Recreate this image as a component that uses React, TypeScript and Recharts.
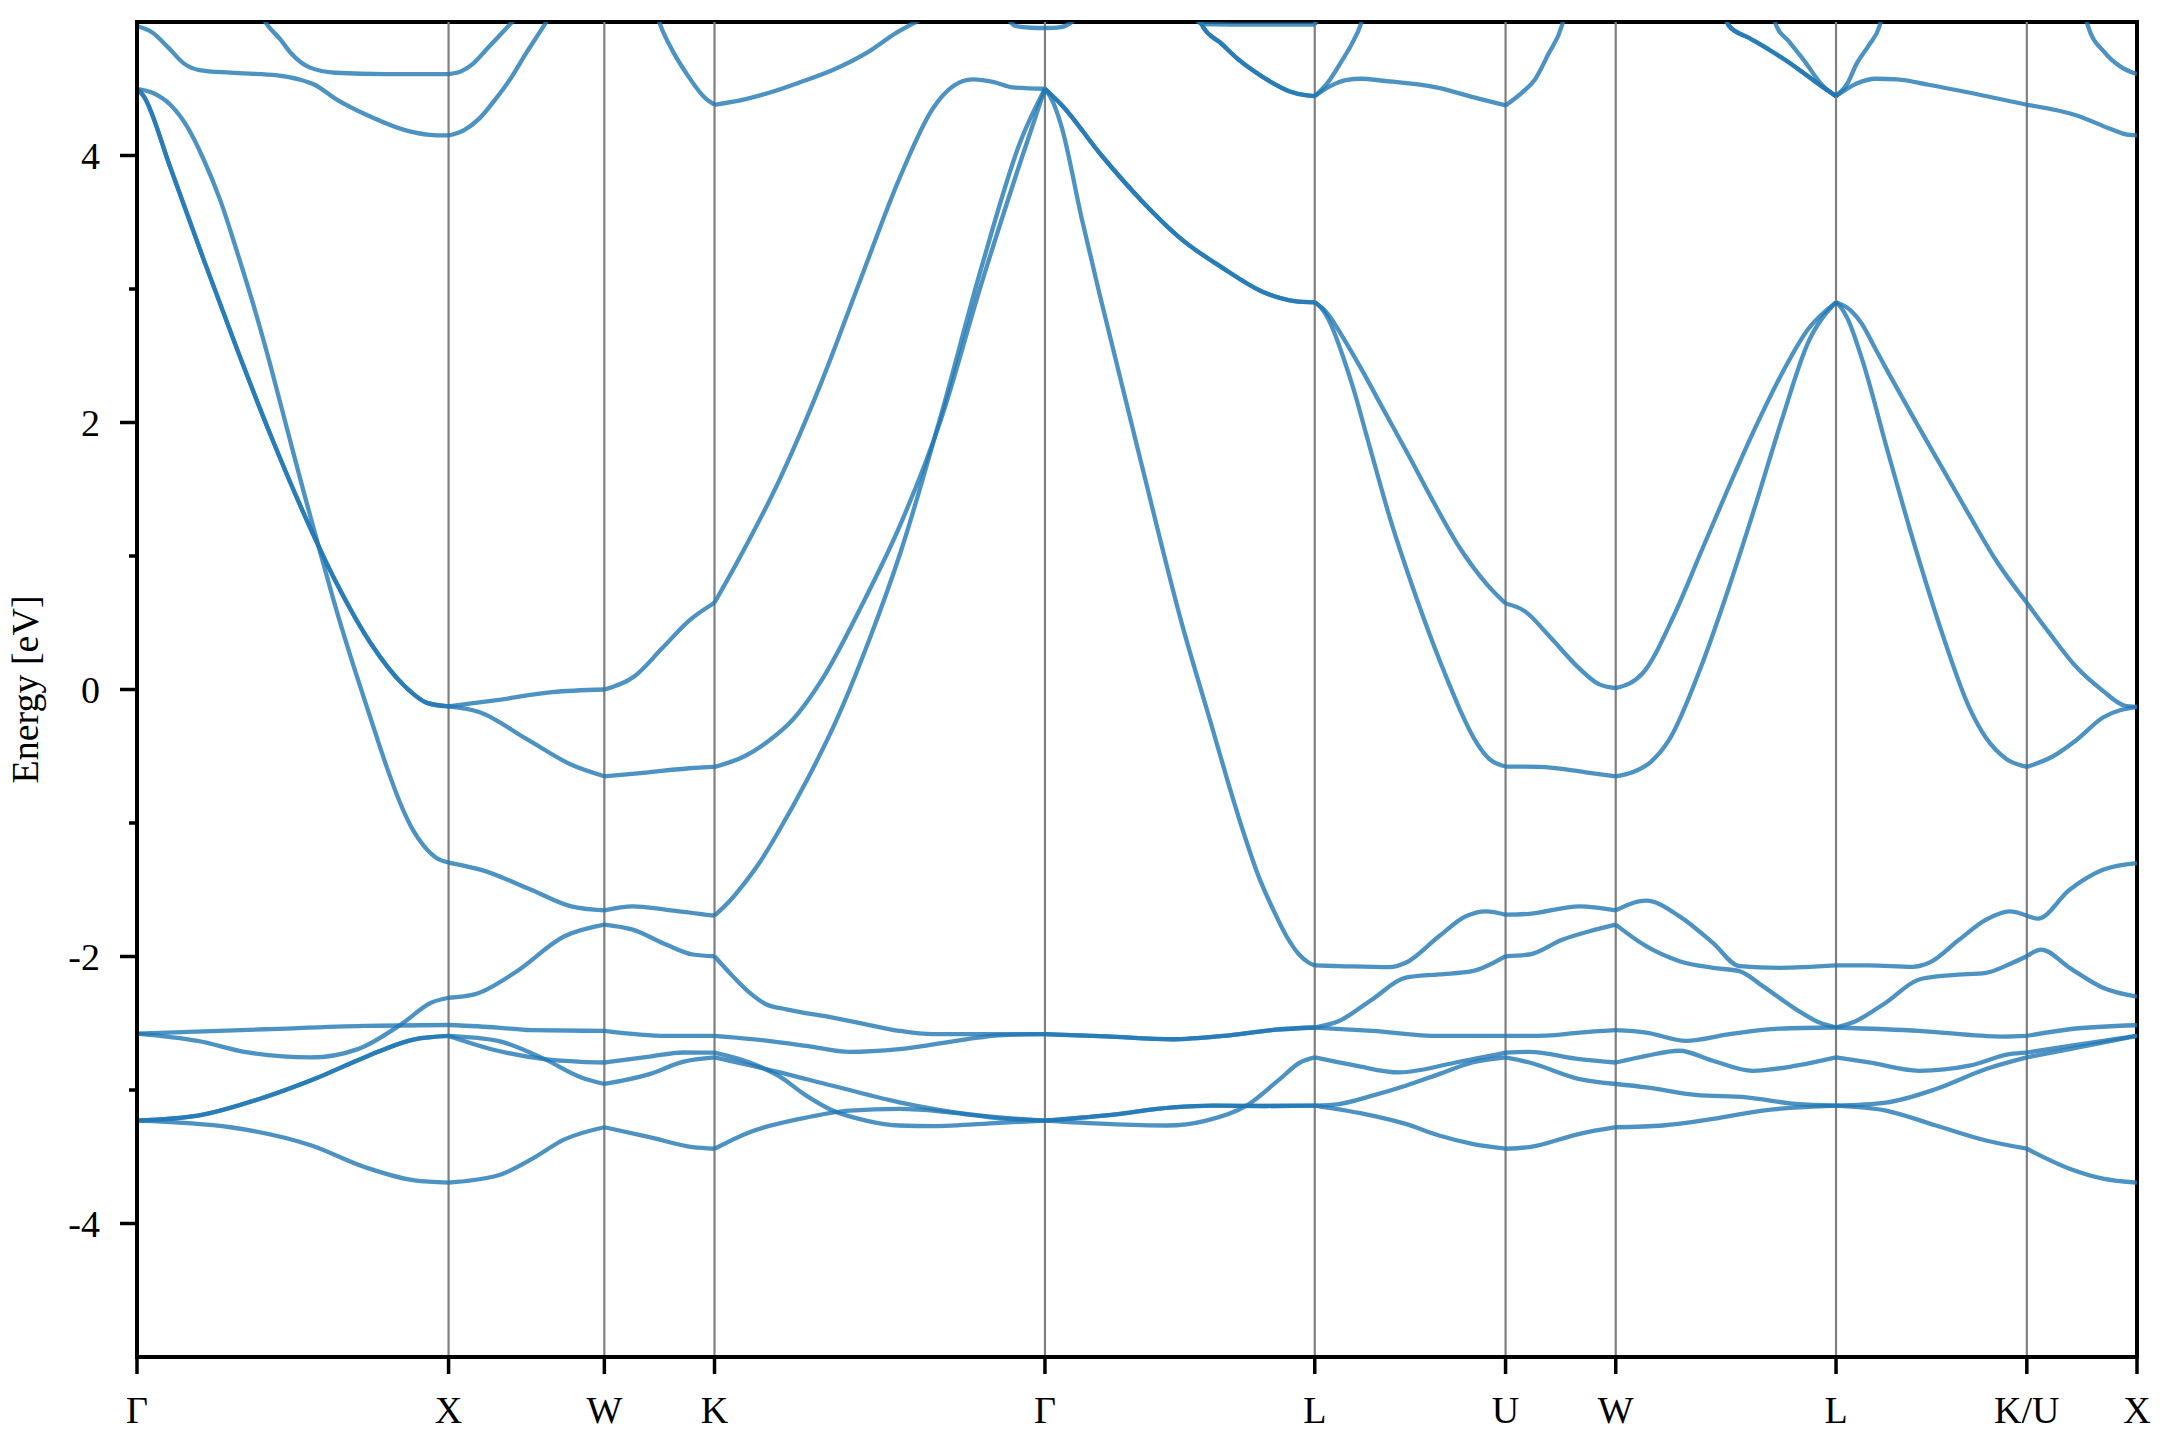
import React from "react";
import {
  LineChart,
  Line,
  XAxis,
  YAxis,
  ReferenceLine,
  ReferenceArea,
  Label,
} from "recharts";

type Pt = [number, number];

// high-symmetry points along the k-path
const KPOINTS = [0, 1, 1.5, 1.8536, 2.9142, 3.7802, 4.3926, 4.7462, 5.4533, 6.0657, 6.4193];
const KLABELS = ["Γ", "X", "W", "K", "Γ", "L", "U", "W", "L", "K/U", "X"];
const ENERGY_TICKS = [-4, -3, -2, -1, 0, 1, 2, 3, 4];

// shared (degenerate) pieces
const gxLow: Pt[] = [[0, -3.229], [0.195, -3.192], [0.409, -3.055], [0.569, -2.918], [0.73, -2.756], [0.891, -2.62], [1.0, -2.595]];
const glLow: Pt[] = [[3.111, -3.19], [3.325, -3.13], [3.454, -3.117], [3.62, -3.12], [3.7802, -3.117]];
const glMid: Pt[] = [[3.111, -2.599], [3.325, -2.62], [3.486, -2.595], [3.647, -2.55], [3.7802, -2.532]];
const gxTop: Pt[] = [[0, 4.5], [0.02, 4.45], [0.107, 3.91], [0.214, 3.22], [0.321, 2.55], [0.428, 1.91], [0.535, 1.32], [0.642, 0.79], [0.749, 0.35], [0.857, 0.03], [0.931, -0.1], [1.0, -0.127]];
const glTop: Pt[] = [[2.967, 4.38], [3.096, 4.0], [3.225, 3.66], [3.354, 3.37], [3.483, 3.16], [3.612, 2.98], [3.715, 2.91], [3.7802, 2.9]];

// d-like bands
const band1: Pt[] = [
  [0, -3.229], [0.3, -3.279], [0.56, -3.416], [0.73, -3.577], [0.89, -3.677], [1.0, -3.694],
  [1.16, -3.639], [1.265, -3.52], [1.372, -3.37], [1.5, -3.279], [1.645, -3.353], [1.784, -3.428],
  [1.8536, -3.44], [1.966, -3.316], [2.126, -3.217], [2.287, -3.154], [2.447, -3.142], [2.608, -3.167],
  [2.768, -3.212], [2.9142, -3.229], ...glLow, [3.965, -3.192], [4.072, -3.254], [4.179, -3.341],
  [4.286, -3.403], [4.3926, -3.44], [4.469, -3.428], [4.63, -3.328], [4.7462, -3.279], [4.897, -3.266],
  [5.058, -3.217], [5.218, -3.154], [5.4533, -3.117], [5.613, -3.154], [5.774, -3.266], [5.935, -3.378],
  [6.0657, -3.44], [6.203, -3.59], [6.31, -3.664], [6.4193, -3.694],
];
const band2: Pt[] = [
  ...gxLow, [1.158, -2.632], [1.308, -2.769], [1.426, -2.906], [1.5, -2.955], [1.645, -2.881],
  [1.752, -2.789], [1.8536, -2.756], [2.019, -2.843], [2.233, -2.968], [2.447, -3.092], [2.661, -3.179],
  [2.9142, -3.229], ...glLow, [3.858, -3.105], [3.965, -3.042], [4.072, -2.968], [4.179, -2.881],
  [4.286, -2.794], [4.3926, -2.756], [4.469, -2.794], [4.63, -2.918], [4.7462, -2.955], [4.844, -2.98],
  [5.004, -3.037], [5.165, -3.055], [5.325, -3.105], [5.4533, -3.117], [5.613, -3.094], [5.774, -2.993],
  [5.935, -2.843], [6.0657, -2.756], [6.203, -2.694], [6.4193, -2.595],
];
const band3: Pt[] = [
  ...gxLow, [1.158, -2.706], [1.308, -2.769], [1.426, -2.789], [1.5, -2.794], [1.645, -2.75],
  [1.752, -2.719], [1.8536, -2.72], [1.966, -2.794], [2.062, -2.898], [2.148, -3.042], [2.233, -3.154],
  [2.34, -3.229], [2.447, -3.266], [2.554, -3.271], [2.768, -3.246], [2.9142, -3.229], [3.111, -3.254],
  [3.304, -3.266], [3.432, -3.229], [3.561, -3.117], [3.668, -2.918], [3.733, -2.794], [3.7802, -2.756],
  [3.912, -2.818], [4.051, -2.868], [4.233, -2.794], [4.3926, -2.72], [4.469, -2.714], [4.63, -2.769],
  [4.7462, -2.794], [4.844, -2.744], [4.951, -2.706], [5.058, -2.781], [5.186, -2.856], [5.325, -2.818],
  [5.4533, -2.756], [5.559, -2.794], [5.72, -2.856], [5.881, -2.818], [6.01, -2.731], [6.0657, -2.72],
  [6.203, -2.669], [6.4193, -2.595],
];
const band4: Pt[] = [
  [0, -2.577], [0.409, -2.545], [0.73, -2.52], [1.0, -2.513], [1.158, -2.532], [1.265, -2.552],
  [1.5, -2.557], [1.698, -2.595], [1.8536, -2.595], [2.019, -2.63], [2.15, -2.67], [2.287, -2.715],
  [2.447, -2.694], [2.661, -2.62], [2.768, -2.59], [2.9142, -2.582], ...glMid, [3.965, -2.557],
  [4.179, -2.595], [4.3926, -2.595], [4.522, -2.592], [4.63, -2.57], [4.7462, -2.552], [4.844, -2.57],
  [4.972, -2.632], [5.111, -2.582], [5.271, -2.54], [5.4533, -2.532], [5.72, -2.557], [5.988, -2.6],
  [6.0657, -2.595], [6.203, -2.545], [6.4193, -2.515],
];
const band5: Pt[] = [
  [0, -2.577], [0.195, -2.632], [0.355, -2.719], [0.559, -2.756], [0.709, -2.694], [0.848, -2.508],
  [0.944, -2.346], [1.0, -2.309], [1.083, -2.284], [1.212, -2.122], [1.372, -1.848], [1.5, -1.761],
  [1.591, -1.799], [1.698, -1.91], [1.784, -1.985], [1.8536, -1.998], [1.912, -2.147], [1.966, -2.271],
  [2.019, -2.358], [2.084, -2.396], [2.233, -2.458], [2.34, -2.508], [2.447, -2.557], [2.554, -2.582],
  [2.9142, -2.582], ...glMid, [3.858, -2.483], [3.965, -2.321], [4.072, -2.159], [4.179, -2.134],
  [4.286, -2.11], [4.3926, -1.998], [4.469, -1.985], [4.576, -1.873], [4.662, -1.811], [4.7462, -1.761],
  [4.844, -1.923], [4.951, -2.035], [5.058, -2.085], [5.143, -2.11], [5.218, -2.222], [5.325, -2.396],
  [5.4, -2.495], [5.4533, -2.532], [5.506, -2.495], [5.613, -2.346], [5.72, -2.172], [5.827, -2.139],
  [5.935, -2.122], [6.02, -2.047], [6.0657, -1.998], [6.112, -1.948], [6.203, -2.085], [6.31, -2.234],
  [6.4193, -2.301],
];

// s/p-like bands
const band6: Pt[] = [
  [0, 4.5], [0.05, 4.47], [0.107, 4.38], [0.16, 4.22], [0.214, 3.97], [0.268, 3.66], [0.321, 3.28],
  [0.375, 2.87], [0.428, 2.43], [0.482, 1.95], [0.535, 1.48], [0.589, 1.02], [0.642, 0.58], [0.696, 0.17],
  [0.749, -0.21], [0.8, -0.57], [0.85, -0.88], [0.885, -1.05], [0.92, -1.17], [0.96, -1.26], [1.0, -1.296],
  [1.105, -1.351], [1.265, -1.5], [1.394, -1.624], [1.5, -1.654], [1.591, -1.624], [1.7, -1.65],
  [1.8536, -1.694], [1.9, -1.59], [1.95, -1.45], [2.0, -1.29], [2.06, -1.06], [2.15, -0.68], [2.245, -0.23],
  [2.35, 0.37], [2.451, 1.03], [2.58, 2.05], [2.709, 3.15], [2.838, 4.12], [2.9142, 4.5],
  [2.94, 4.4], [2.967, 4.22], [3.032, 3.53], [3.096, 2.9], [3.225, 1.68], [3.354, 0.49], [3.444, -0.23],
  [3.5, -0.68], [3.55, -1.06], [3.6, -1.4], [3.647, -1.65], [3.69, -1.85], [3.73, -1.985], [3.76, -2.045],
  [3.7802, -2.067], [3.858, -2.072], [4.019, -2.08], [4.072, -2.047], [4.179, -1.848], [4.265, -1.699],
  [4.329, -1.662], [4.3926, -1.687], [4.469, -1.68], [4.63, -1.624], [4.7462, -1.654], [4.844, -1.582],
  [4.951, -1.699], [5.058, -1.898], [5.143, -2.072], [5.271, -2.085], [5.4533, -2.067], [5.559, -2.067],
  [5.699, -2.077], [5.752, -2.047], [5.849, -1.873], [5.935, -1.724], [6.01, -1.662], [6.0657, -1.694],
  [6.101, -1.716], [6.203, -1.5], [6.31, -1.351], [6.4193, -1.301],
];
const band7: Pt[] = [
  ...gxTop, [1.155, -0.08], [1.332, -0.02], [1.5, 0.0], [1.597, 0.1], [1.686, 0.31], [1.774, 0.52],
  [1.8536, 0.65], [1.935, 0.99], [2.064, 1.58], [2.193, 2.28], [2.322, 3.07], [2.451, 3.85], [2.554, 4.35],
  [2.62, 4.52], [2.682, 4.57], [2.75, 4.55], [2.811, 4.51], [2.9142, 4.5], ...glTop,
  [3.82, 2.82], [3.87, 2.64], [3.93, 2.4], [4.0, 2.1], [4.08, 1.76], [4.16, 1.41], [4.246, 1.06],
  [4.332, 0.79], [4.3926, 0.644], [4.452, 0.59], [4.537, 0.39], [4.624, 0.17], [4.692, 0.04],
  [4.7462, 0.01], [4.832, 0.12], [4.934, 0.56], [5.02, 1.03], [5.106, 1.5], [5.192, 1.95], [5.278, 2.36],
  [5.364, 2.7], [5.4533, 2.9], [5.5, 2.84], [5.536, 2.74], [5.58, 2.55], [5.622, 2.37], [5.708, 2.01],
  [5.794, 1.66], [5.88, 1.31], [5.966, 0.97], [6.0657, 0.65], [6.139, 0.42], [6.224, 0.17], [6.31, -0.01],
  [6.379, -0.12], [6.4193, -0.13],
];
const band8: Pt[] = [
  ...gxTop, [1.1, -0.17], [1.25, -0.37], [1.4, -0.57], [1.5, -0.65], [1.642, -0.62], [1.774, -0.59],
  [1.8536, -0.58], [1.95, -0.5], [2.03, -0.38], [2.103, -0.23], [2.2, 0.08], [2.322, 0.61], [2.451, 1.24],
  [2.58, 2.02], [2.709, 3.03], [2.838, 3.97], [2.9142, 4.5], ...glTop,
  [3.8, 2.86], [3.833, 2.73], [3.87, 2.5], [3.902, 2.27], [3.954, 1.84], [4.022, 1.28], [4.091, 0.79],
  [4.159, 0.35], [4.21, 0.05], [4.246, -0.15], [4.3, -0.4], [4.34, -0.52], [4.3926, -0.577],
  [4.5, -0.58], [4.65, -0.62], [4.7462, -0.65], [4.8, -0.62], [4.86, -0.54], [4.917, -0.38], [5.02, 0.17],
  [5.106, 0.74], [5.192, 1.36], [5.278, 2.01], [5.364, 2.6], [5.4533, 2.9], [5.47, 2.86], [5.49, 2.78],
  [5.536, 2.48], [5.622, 1.76], [5.708, 1.06], [5.794, 0.42], [5.88, -0.13], [5.934, -0.36], [6.0, -0.52],
  [6.0657, -0.58], [6.15, -0.5], [6.224, -0.38], [6.31, -0.21], [6.4193, -0.13],
];

// pieces of the upper bands that enter the window
const topGX1: Pt[] = [[0, 4.97], [0.05, 4.92], [0.1, 4.81], [0.15, 4.69], [0.2, 4.64], [0.3, 4.62], [0.45, 4.6], [0.52, 4.57], [0.57, 4.53], [0.64, 4.42], [0.75, 4.29], [0.86, 4.19], [0.94, 4.155], [1.0, 4.15], [1.05, 4.19], [1.1, 4.28], [1.15, 4.42], [1.2, 4.58], [1.25, 4.77], [1.3, 4.95], [1.33, 5.06]];
const topGX2: Pt[] = [[0.39, 5.08], [0.421, 4.97], [0.46, 4.87], [0.493, 4.77], [0.554, 4.66], [0.636, 4.62], [0.8, 4.61], [1.0, 4.61], [1.04, 4.63], [1.08, 4.69], [1.12, 4.79], [1.16, 4.89], [1.2, 4.99], [1.23, 5.07]];
const topK: Pt[] = [[1.665, 5.08], [1.681, 4.97], [1.72, 4.78], [1.762, 4.62], [1.824, 4.43], [1.8536, 4.38], [1.95, 4.42], [2.029, 4.47], [2.13, 4.55], [2.233, 4.64], [2.35, 4.78], [2.438, 4.92], [2.5, 5.0], [2.55, 5.06]];
const topG: Pt[] = [[2.78, 5.08], [2.821, 4.97], [2.87, 4.957], [2.9142, 4.955], [2.96, 4.96], [3.0, 5.0], [3.03, 5.08]];
const topL1left: Pt[] = [[3.4, 5.08], [3.42, 4.97], [3.48, 4.84], [3.53, 4.73], [3.58, 4.64], [3.64, 4.55], [3.7, 4.48], [3.75, 4.452], [3.7802, 4.445]];
const topL1a: Pt[] = [...topL1left, [3.83, 4.52], [3.88, 4.565], [3.93, 4.575], [4.0, 4.56], [4.17, 4.51], [4.3, 4.43], [4.3926, 4.375], [4.45, 4.48], [4.487, 4.57], [4.53, 4.76], [4.573, 4.97], [4.585, 5.08]];
const topL1b: Pt[] = [...topL1left, [3.82, 4.54], [3.862, 4.69], [3.9, 4.84], [3.926, 4.97], [3.94, 5.08]];
const topL1c: Pt[] = [[3.38, 5.08], [3.42, 4.985], [3.6, 4.98], [3.7802, 4.98], [3.8, 5.08]];
const topL2left: Pt[] = [[5.09, 5.08], [5.11, 4.97], [5.175, 4.88], [5.24, 4.79], [5.3, 4.7], [5.348, 4.62], [5.4, 4.53], [5.4533, 4.445]];
const topL2a: Pt[] = [...topL2left, [5.52, 4.54], [5.58, 4.575], [5.65, 4.57], [5.75, 4.53], [5.883, 4.47], [6.0657, 4.38], [6.226, 4.3], [6.333, 4.2], [6.38, 4.16], [6.4193, 4.15]];
const topL2b: Pt[] = [...topL2left, [5.49, 4.54], [5.52, 4.69], [5.56, 4.83], [5.593, 4.97], [5.605, 5.08]];
const topL2c: Pt[] = [[5.25, 5.08], [5.262, 4.97], [5.3, 4.86], [5.348, 4.72], [5.412, 4.52], [5.4533, 4.445]];
const topX: Pt[] = [[6.25, 5.08], [6.262, 4.97], [6.316, 4.77], [6.37, 4.66], [6.4193, 4.61]];

const BANDS: Pt[][] = [
  band1, band2, band3, band4, band5, band6, band7, band8,
  topGX1, topGX2, topK, topG, topL1a, topL1b, topL1c, topL2a, topL2b, topL2c, topX,
];

const FONT = '"Liberation Serif", "Times New Roman", serif';
const BLUE = "#1f77b4";
const KMAX = KPOINTS[KPOINTS.length - 1];
const INNER_K = KPOINTS.slice(1, -1);

// cut each band at the high-symmetry points so kinks there stay sharp
function splitAtKpoints(pts: Pt[]) {
  const pieces: { k: number; e: number }[][] = [];
  let cur: { k: number; e: number }[] = [];
  pts.forEach(([k, e]) => {
    cur.push({ k, e });
    if (INNER_K.some((q) => Math.abs(q - k) < 1e-6)) {
      if (cur.length > 1) pieces.push(cur);
      cur = [{ k, e }];
    }
  });
  if (cur.length > 1) pieces.push(cur);
  return pieces;
}

const SEGMENTS = BANDS.flatMap((b) => splitAtKpoints(b));

// left axis ticks: long + label on even values, short on odd
function EnergyTick(props: any) {
  const { x, y, payload } = props;
  const major = payload.value % 2 === 0;
  return (
    <g>
      <line x1={x - (major ? 17 : 8)} x2={x} y1={y} y2={y} stroke="#000" strokeWidth={3.5} />
      {major && (
        <text x={x - 37} y={y} dy="0.35em" textAnchor="end" fontFamily={FONT} fontSize={38} fill="#000">
          {payload.value}
        </text>
      )}
    </g>
  );
}

function EnergyLabel(props: any) {
  const vb = props.viewBox || { x: 0, y: 0, width: 0, height: 0 };
  const cx = vb.x + 25;
  const cy = vb.y + vb.height / 2;
  return (
    <text x={cx} y={cy} dy="0.35em" textAnchor="middle" transform={`rotate(-90 ${cx} ${cy})`}
      fontFamily={FONT} fontSize={38} fill="#000">
      Energy [eV]
    </text>
  );
}

export default function App() {
  return (
    <div style={{ position: "absolute", left: 0, top: 0, background: "#fff" }}>
      <LineChart width={2160} height={1440} margin={{ top: 22, right: 23, bottom: 0, left: 0 }}>
        <XAxis
          type="number"
          dataKey="k"
          domain={[0, KMAX]}
          ticks={KPOINTS}
          interval={0}
          allowDataOverflow
          tickFormatter={(v: number) => KLABELS[KPOINTS.indexOf(v)] ?? ""}
          height={83}
          tickSize={17}
          tickMargin={22}
          axisLine={{ stroke: "#000", strokeWidth: 4 }}
          tickLine={{ stroke: "#000", strokeWidth: 3.5 }}
          tick={{ fill: "#000", fontSize: 38, fontFamily: FONT }}
        />
        <YAxis
          type="number"
          domain={[-5, 5]}
          ticks={ENERGY_TICKS}
          interval={0}
          allowDataOverflow
          width={137}
          tickSize={0}
          tickMargin={0}
          tickLine={false}
          axisLine={{ stroke: "#000", strokeWidth: 4 }}
          tick={<EnergyTick />}
        >
          <Label content={<EnergyLabel />} />
        </YAxis>
        {INNER_K.map((k) => (
          <ReferenceLine key={k} x={k} stroke="#808080" strokeWidth={2.2} />
        ))}
        {SEGMENTS.map((seg, i) => (
          <Line
            key={i}
            data={seg}
            dataKey="e"
            type="monotone"
            stroke={BLUE}
            strokeOpacity={0.8}
            strokeWidth={4.3}
            dot={false}
            activeDot={false}
            isAnimationActive={false}
          />
        ))}
        <ReferenceArea x1={0} x2={KMAX} y1={-5} y2={5} fill="none" stroke="#000" strokeWidth={4} />
      </LineChart>
    </div>
  );
}
